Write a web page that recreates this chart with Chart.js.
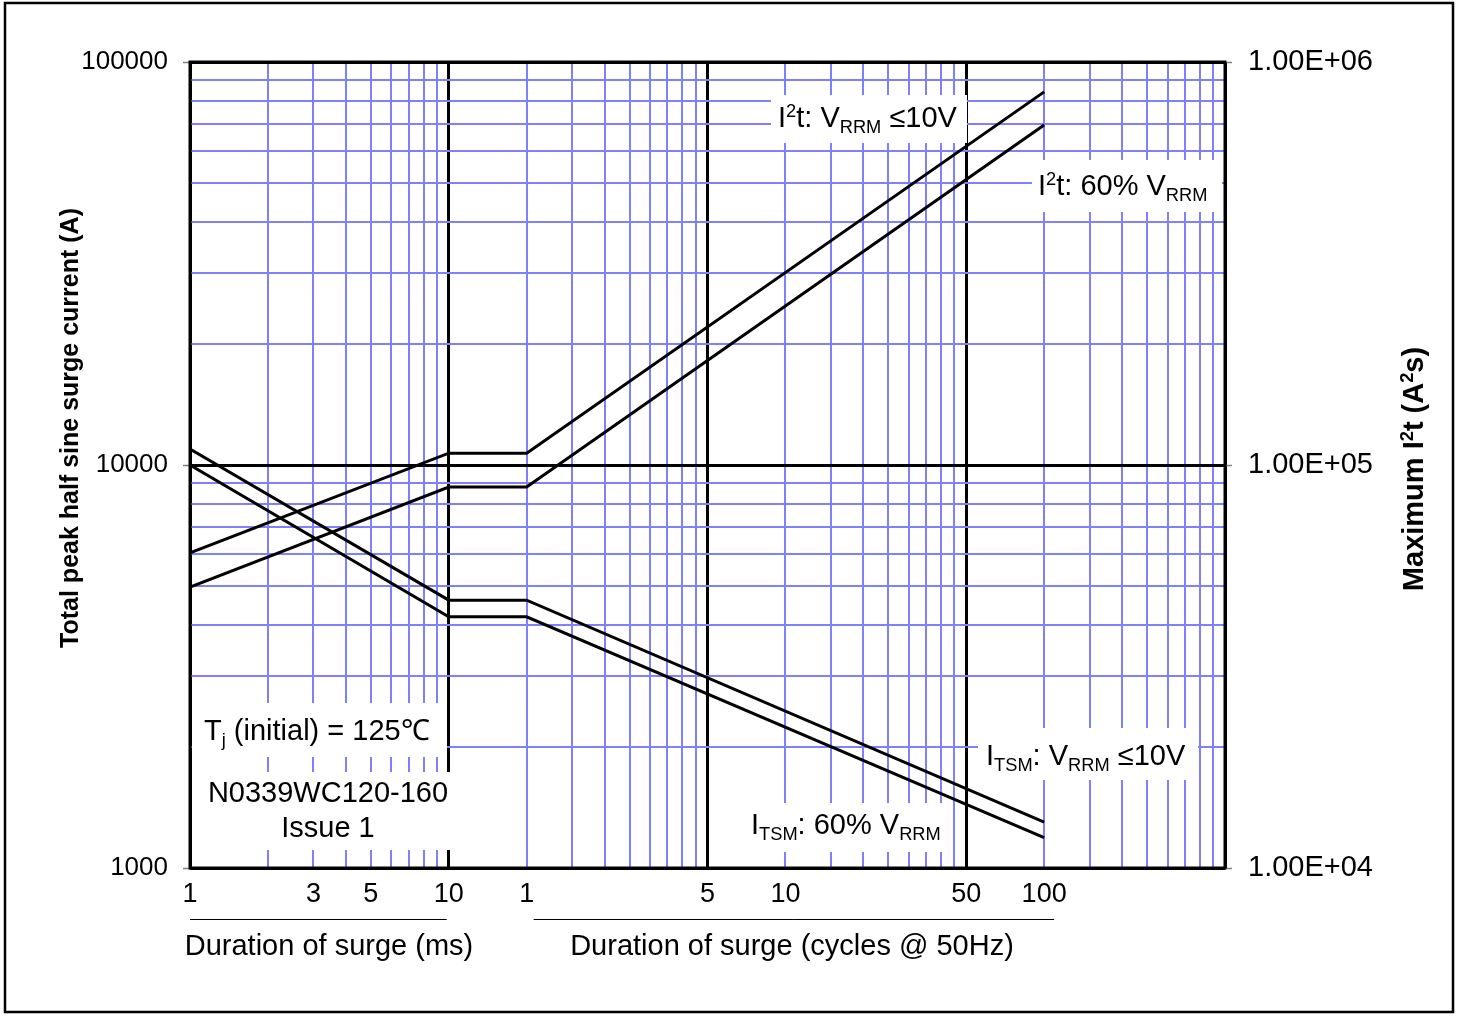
<!DOCTYPE html>
<html>
<head>
<meta charset="utf-8">
<script src="https://cdn.jsdelivr.net/npm/chart.js@4.4.1/dist/chart.umd.min.js"></script>
<style>
html, body { margin: 0; padding: 0; background: #fff; }
#surge_graph { display: block; }
</style>
</head>
<body>
<canvas id="surge_graph" width="1460" height="1016"></canvas>
<script>
// surge duration (ms) at the bends of each curve
var duration_ms = [1, 10, 20, 2000];

// peak half sine surge current (A), left axis
var itsm_10v = [10960, 4620, 4620, 1300];
var itsm_60 = [10000, 4200, 4200, 1190];

// maximum I2t (A2s), right axis
var i2t_10v = [60500, 107000, 107000, 843000];
var i2t_60 = [49800, 88200, 88200, 698000];

// x tick labels: first part in ms, second part in cycles @ 50Hz (1 cycle = 20 ms)
var ms_ticks = [1, 3, 5, 10];
var ms_tick_labels = ["1", "3", "5", "10"];
var cycle_ticks = [1, 5, 10, 50, 100];
var cycle_tick_labels = ["1", "5", "10", "50", "100"];
var cycle_ms = 20;

var current_ticks = [1000, 10000, 100000];
var current_tick_labels = ["1000", "10000", "100000"];
var i2t_ticks = [10000, 100000, 1000000];
var i2t_tick_labels = ["1.00E+04", "1.00E+05", "1.00E+06"];

var FONT = "'Liberation Sans', Arial, sans-serif";
var BLUE = "#8080ff";

// log grid values 1,2..9,10,20..
function logGrid(lo, hi) {
    var out = [];
    for (var d = lo; d < hi; d *= 10) {
        for (var k = 1; k < 10; k++) out.push(k * d);
    }
    out.push(hi);
    return out;
}
function isDecade(v) {
    var l = Math.log10(v);
    return Math.abs(l - Math.round(l)) < 1e-9;
}

var x_labels = {};
for (var i = 0; i < ms_ticks.length; i++) x_labels[ms_ticks[i]] = ms_tick_labels[i];
for (var i = 0; i < cycle_ticks.length; i++) x_labels[cycle_ticks[i] * cycle_ms] = cycle_tick_labels[i];

function pts(ys) {
    return duration_ms.map(function (x, i) { return { x: x, y: ys[i] }; });
}

// draws text made of normal / sub / sup pieces
var SMALL = 0.63;
function richWidth(ctx, parts, size, weight) {
    var w = 0;
    parts.forEach(function (p) {
        var s = p[1] ? size * SMALL : size;
        ctx.font = weight + " " + s + "px " + FONT;
        w += ctx.measureText(p[0]).width;
    });
    return w;
}
function drawRich(ctx, parts, x, y, size, weight, align) {
    var w = richWidth(ctx, parts, size, weight);
    if (align === "center") x -= w / 2;
    ctx.textAlign = "left";
    ctx.textBaseline = "alphabetic";
    parts.forEach(function (p) {
        var s = size, dy = 0;
        if (p[1] === "sub") { s = size * SMALL; dy = size * 0.22; }
        if (p[1] === "sup") { s = size * SMALL; dy = -size * 0.36; }
        ctx.font = weight + " " + s + "px " + FONT;
        ctx.fillText(p[0], x, y + dy);
        x += ctx.measureText(p[0]).width;
    });
}

var boxes = [
    { r: [771, 95, 196, 48], x: 778, y: 127, parts: [["I"], ["2", "sup"], ["t: V"], ["RRM", "sub"], [" \u226410V"]] },
    { r: [1032, 160, 190, 52], x: 1038, y: 195, parts: [["I"], ["2", "sup"], ["t: 60% V"], ["RRM", "sub"]] },
    { r: [978, 728, 220, 52], x: 986, y: 765, parts: [["I"], ["TSM", "sub"], [": V"], ["RRM", "sub"], [" \u226410V"]] },
    { r: [745, 803, 200, 49], x: 751, y: 834, parts: [["I"], ["TSM", "sub"], [": 60% V"], ["RRM", "sub"]] },
    { r: [192, 703, 255, 54], x: 204, y: 740, parts: [["T"], ["j", "sub"], [" (initial) = 125\u2103"]] },
    { r: [192, 772, 261, 78], x: 328, y: 802, center: true, parts: [["N0339WC120-160"]] },
    { r: null, x: 328, y: 837, center: true, parts: [["Issue 1"]] }
];

var decorations = {
    id: "decorations",
    beforeDatasetsDraw: function (chart) {
        var ctx = chart.ctx;
        ctx.save();
        boxes.forEach(function (b) {
            if (b.r) {
                ctx.fillStyle = "#fff";
                ctx.fillRect(b.r[0], b.r[1], b.r[2], b.r[3]);
            }
        });
        ctx.fillStyle = "#000";
        boxes.forEach(function (b) {
            drawRich(ctx, b.parts, b.x, b.y, 29, "normal", b.center ? "center" : "left");
        });
        ctx.restore();
    },
    afterDraw: function (chart) {
        var ctx = chart.ctx;
        var a = chart.chartArea;
        ctx.save();
        // plot frame
        ctx.strokeStyle = "#000";
        ctx.lineWidth = 3;
        ctx.strokeRect(a.left, a.top, a.right - a.left, a.bottom - a.top);
        // outer frame
        ctx.lineWidth = 2.5;
        ctx.strokeRect(5, 3, 1448, 1009);

        // lines under the x tick labels
        var xs = chart.scales.x;
        ctx.lineWidth = 1;
        ctx.beginPath();
        ctx.moveTo(xs.getPixelForValue(1), 919.5);
        ctx.lineTo(xs.getPixelForValue(10) - 2, 919.5);
        ctx.moveTo(xs.getPixelForValue(cycle_ms) + 7, 919.5);
        ctx.lineTo(xs.getPixelForValue(100 * cycle_ms) + 10, 919.5);
        ctx.stroke();

        ctx.fillStyle = "#000";
        drawRich(ctx, [["Duration of surge (ms)"]], 329, 955, 29, "normal", "center");
        drawRich(ctx, [["Duration of surge (cycles @ 50Hz)"]], 792, 955, 29, "normal", "center");

        // axis titles
        ctx.save();
        ctx.translate(78, 428);
        ctx.rotate(-Math.PI / 2);
        drawRich(ctx, [["Total peak half sine surge current (A)"]], 0, 0, 25, "bold", "center");
        ctx.restore();

        ctx.save();
        ctx.translate(1423, 469);
        ctx.rotate(-Math.PI / 2);
        drawRich(ctx, [["Maximum I"], ["2", "sup"], ["t (A"], ["2", "sup"], ["s)"]], 0, 0, 29, "bold", "center");
        ctx.restore();

        ctx.restore();
    }
};

function lineSet(label, ys, axis) {
    return {
        label: label,
        data: pts(ys),
        yAxisID: axis,
        borderColor: "#000",
        borderWidth: 3,
        pointRadius: 0,
        fill: false,
        tension: 0
    };
}

function gridColor(c) {
    if (!c.tick) return "transparent";
    return isDecade(c.tick.value) ? "#000" : BLUE;
}
function gridWidth(c) {
    if (!c.tick) return 0;
    return isDecade(c.tick.value) ? 3 : 2;
}

var ctx = document.getElementById("surge_graph");

var chart = new Chart(ctx, {
    type: "line",
    data: {
        datasets: [
            lineSet("ITSM: VRRM <=10V", itsm_10v, "y"),
            lineSet("ITSM: 60% VRRM", itsm_60, "y"),
            lineSet("I2t: VRRM <=10V", i2t_10v, "y2"),
            lineSet("I2t: 60% VRRM", i2t_60, "y2")
        ]
    },
    options: {
        responsive: false,
        animation: false,
        events: [],
        layout: { padding: { top: 62, left: 0, right: 0, bottom: 0 } },
        plugins: {
            legend: { display: false },
            tooltip: { enabled: false },
            title: { display: false }
        },
        scales: {
            x: {
                type: "logarithmic",
                min: 1,
                max: 10000,
                afterBuildTicks: function (s) {
                    s.ticks = logGrid(1, 10000).map(function (v) { return { value: v }; });
                },
                afterFit: function (s) { s.height = 148; },
                ticks: {
                    autoSkip: false,
                    maxRotation: 0,
                    minRotation: 0,
                    padding: 10,
                    color: "#000",
                    font: { family: FONT, size: 27 },
                    callback: function (v) { return x_labels[v] || ""; }
                },
                grid: {
                    drawTicks: false,
                    color: gridColor,
                    lineWidth: gridWidth
                },
                border: { display: false }
            },
            y: {
                type: "logarithmic",
                position: "left",
                min: 1000,
                max: 100000,
                afterBuildTicks: function (s) {
                    s.ticks = logGrid(1000, 100000).map(function (v) { return { value: v }; });
                },
                afterFit: function (s) { s.width = 190; },
                ticks: {
                    autoSkip: false,
                    padding: 15,
                    color: "#000",
                    font: { family: FONT, size: 26 },
                    callback: function (v) {
                        var k = current_ticks.indexOf(v);
                        return k < 0 ? "" : current_tick_labels[k];
                    }
                },
                grid: {
                    tickLength: 7,
                    color: gridColor,
                    lineWidth: gridWidth,
                    tickColor: function (c) {
                        if (!c.tick) return "transparent";
                        return isDecade(c.tick.value) ? "#808080" : "transparent";
                    },
                    tickWidth: 1.5
                },
                border: { display: false }
            },
            y2: {
                type: "logarithmic",
                position: "right",
                min: 10000,
                max: 1000000,
                afterBuildTicks: function (s) {
                    s.ticks = i2t_ticks.map(function (v) { return { value: v }; });
                },
                afterFit: function (s) { s.width = 235; },
                ticks: {
                    autoSkip: false,
                    padding: 16,
                    color: "#000",
                    font: { family: FONT, size: 29 },
                    callback: function (v) {
                        var k = i2t_ticks.indexOf(v);
                        return k < 0 ? "" : i2t_tick_labels[k];
                    }
                },
                grid: {
                    drawOnChartArea: false,
                    tickLength: 7,
                    tickColor: "#808080",
                    tickWidth: 1.5
                },
                border: { display: false }
            }
        }
    },
    plugins: [decorations]
});
</script>
</body>
</html>
